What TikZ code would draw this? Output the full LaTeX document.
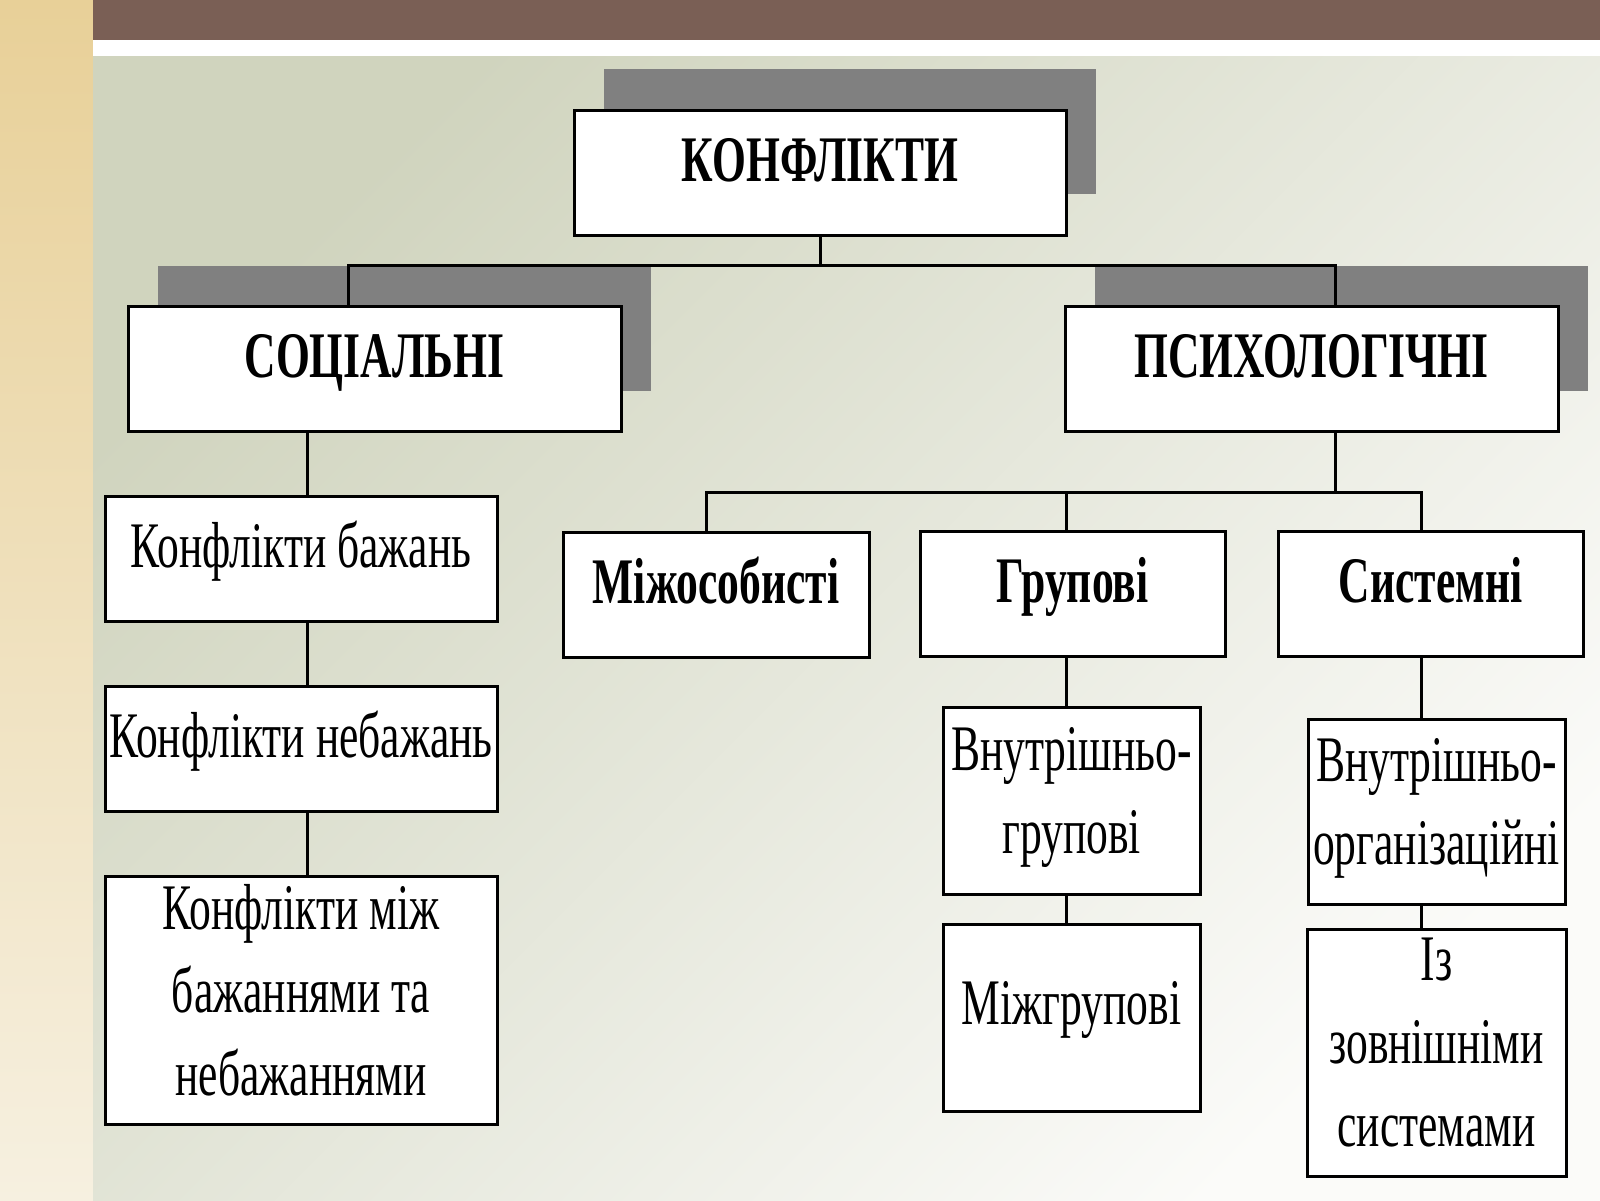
\documentclass[tikz,border=0pt]{standalone}
\usepackage{fontspec}
\setmainfont{Liberation Serif}[FakeStretch=0.67]
\usetikzlibrary{shadows}

\definecolor{goldtop}{RGB}{232,208,152}
\definecolor{goldbottom}{RGB}{246,240,224}
\definecolor{brownbar}{RGB}{122,95,85}
\definecolor{bgdark}{RGB}{208,212,190}
\definecolor{bglight}{RGB}{251,251,249}
\definecolor{shadowgray}{RGB}{128,128,128}

\begin{document}
\begin{tikzpicture}[x=1pt, y=-1pt,
    box/.style={draw, line width=3pt, fill=white, inner xsep=0pt, align=center,
        font=\fontsize{65}{83}\selectfont},
    boldtext/.style={font=\fontsize{65}{83}\selectfont\bfseries},
    oneline/.style={inner ysep=0pt, text height=71pt, text depth=54pt},
    lines/.style={inner ysep=0pt, execute at end node={\rule[-20pt]{0pt}{20pt}}},
    shadowed/.style={drop shadow={shadow xshift=30pt, shadow yshift=41pt,
        fill=shadowgray, opacity=1}},
    link/.style={line width=3pt}]
    \useasboundingbox (0,0) rectangle (1600,1200);

    % Slide background
    \shade[top color=goldtop, bottom color=goldbottom] (0,0) rectangle (93,1200);
    \fill[brownbar] (93,0) rectangle (1600,40);
    \fill[white] (93,40) rectangle (1600,56);
    \shade[top color=bgdark, bottom color=bglight, shading angle=45] (93,56) rectangle (1600,1200);

    % Top levels
    \node[box, boldtext, oneline, shadowed, minimum width=492pt] (konf) at (820,172.5) {КОНФЛІКТИ};
    \node[box, boldtext, oneline, shadowed, minimum width=493pt] (soc) at (374.5,369) {СОЦІАЛЬНІ};
    \node[box, boldtext, oneline, shadowed, minimum width=493pt] (psy) at (1311.5,369) {ПСИХОЛОГІЧНІ};

    % Social column
    \node[box, oneline, minimum width=392pt] (want) at (301,559) {Конфлікти бажань};
    \node[box, oneline, minimum width=392pt] (unwant) at (301,749) {Конфлікти небажань};
    \node[box, lines, minimum width=392pt, minimum height=248pt] (mixed) at (301,1000) {Конфлікти між\\бажаннями та\\небажаннями};

    % Psychological row
    \node[box, boldtext, oneline, minimum width=306pt] (inter) at (716,595) {Міжособисті};
    \node[box, boldtext, oneline, minimum width=305pt] (group) at (1072.5,594) {Групові};
    \node[box, boldtext, oneline, minimum width=305pt] (sys) at (1430.5,594) {Системні};

    \node[box, lines, minimum width=257pt, minimum height=187pt] (ingroup) at (1071.5,800.5) {Внутрішньо-\\групові};
    \node[box, inner ysep=0pt, text height=100pt, text depth=87pt, minimum width=257pt] (outgroup) at (1071.5,1017.5) {Міжгрупові};
    \node[box, lines, minimum width=257pt, minimum height=185pt] (inorg) at (1436.5,811.5) {Внутрішньо-\\організаційні};
    \node[box, lines, minimum width=259pt, minimum height=247pt] (ext) at (1436.5,1052.5) {Із\\зовнішніми\\системами};

    % Connectors
    \coordinate (topbus) at (0,265);
    \coordinate (midbus) at (0,492);
    \coordinate (socline) at (348,0);
    \coordinate (psyline) at (1335,0);
    \coordinate (wantline) at (307,0);
    \coordinate (interline) at (706,0);
    \coordinate (grpline) at (1066,0);
    \coordinate (sysline) at (1421,0);

    \draw[link] (konf.south) -- (konf.south |- topbus);
    \draw[link] (soc.north -| socline) -- (topbus -| socline) -- (topbus -| psyline) -- (psy.north -| psyline);
    \draw[link] (soc.south -| wantline) -- (want.north -| wantline);
    \draw[link] (want.south -| wantline) -- (unwant.north -| wantline);
    \draw[link] (unwant.south -| wantline) -- (mixed.north -| wantline);

    \draw[link] (psy.south -| psyline) -- (midbus -| psyline);
    \draw[link] (inter.north -| interline) -- (midbus -| interline) -- (midbus -| sysline) -- (sys.north -| sysline);
    \draw[link] (midbus -| grpline) -- (group.north -| grpline);
    \draw[link] (group.south -| grpline) -- (ingroup.north -| grpline);
    \draw[link] (ingroup.south -| grpline) -- (outgroup.north -| grpline);
    \draw[link] (sys.south -| sysline) -- (inorg.north -| sysline);
    \draw[link] (inorg.south -| sysline) -- (ext.north -| sysline);
\end{tikzpicture}
\end{document}
